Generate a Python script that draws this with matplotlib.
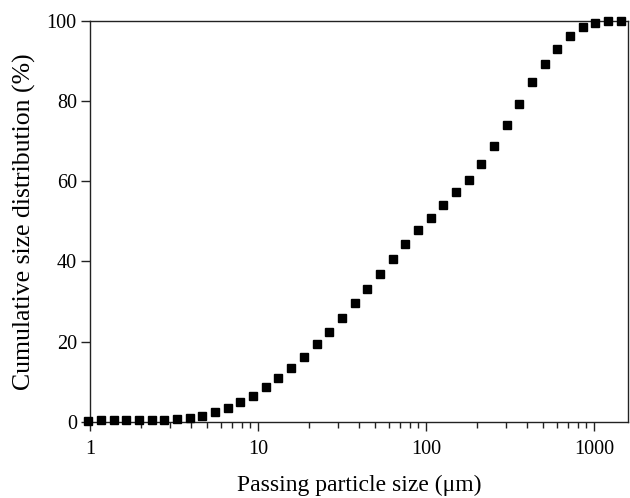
import matplotlib
matplotlib.use("Agg")
import matplotlib.pyplot as plt
from matplotlib.ticker import LogLocator, NullFormatter, FixedLocator, FixedFormatter

plt.rcParams['font.family'] = ['Liberation Serif', 'DejaVu Serif']

# particle size (um)
size_um = [0.977, 1.162, 1.383, 1.645, 1.958, 2.329, 2.771, 3.297, 3.923, 4.668,
           5.554, 6.608, 7.862, 9.354, 11.13, 13.24, 15.76, 18.75, 22.31, 26.54,
           31.58, 37.57, 44.70, 53.19, 63.28, 75.29, 89.58, 106.6, 126.8, 150.9,
           179.5, 213.6, 254.1, 302.4, 359.8, 428.0, 509.3, 606.0, 721.0, 857.8,
           1020.6, 1214.0, 1445.0]
# cumulative passing (%)
cum_pct = [0.3, 0.4, 0.4, 0.4, 0.4, 0.4, 0.4, 0.67, 0.85, 1.4,
           2.3, 3.5, 5.0, 6.4, 8.6, 10.8, 13.4, 16.2, 19.3, 22.4,
           25.9, 29.5, 33.1, 36.9, 40.7, 44.2, 47.7, 50.9, 54.1, 57.2,
           60.4, 64.3, 68.7, 74.0, 79.3, 84.6, 89.3, 93.0, 96.1, 98.4,
           99.5, 99.9, 100.0]

x_ticks = [1, 10, 100, 1000]
x_ticklabels = ['1', '10', '100', '1000']
y_ticks = [0, 20, 40, 60, 80, 100]

fig = plt.figure(figsize=(6.3, 4.98), dpi=100)
ax = fig.add_axes([0.1429, 0.1532, 0.8544, 0.8052])

ax.plot(size_um, cum_pct, linestyle='none', marker='s', markersize=6,
        color='black', clip_on=False, zorder=3)

ax.set_xscale('log')
ax.set_xlim(1, 1600)
ax.set_ylim(0, 100)

ax.xaxis.set_major_locator(FixedLocator(x_ticks))
ax.xaxis.set_major_formatter(FixedFormatter(x_ticklabels))
ax.xaxis.set_minor_locator(LogLocator(base=10, subs=range(2, 10)))
ax.xaxis.set_minor_formatter(NullFormatter())
ax.set_yticks(y_ticks)

for sp in ax.spines.values():
    sp.set_linewidth(1.0)
    sp.set_color('#222222')

ax.tick_params(axis='both', which='major', direction='out', length=6.5,
               width=1.0, labelsize=14.5, color='#222222')
ax.tick_params(axis='x', which='major', pad=7)
ax.tick_params(axis='y', which='major', pad=3)
ax.tick_params(axis='x', which='minor', direction='out', length=4, width=1.0,
               color='#222222')
ax.tick_params(top=False, right=False, which='both')

ax.set_xlabel('Passing particle size (\u03bcm)', fontsize=17, labelpad=11)
ax.set_ylabel('Cumulative size distribution (%)', fontsize=18.5, labelpad=8)

fig.savefig('out.png', dpi=100)
